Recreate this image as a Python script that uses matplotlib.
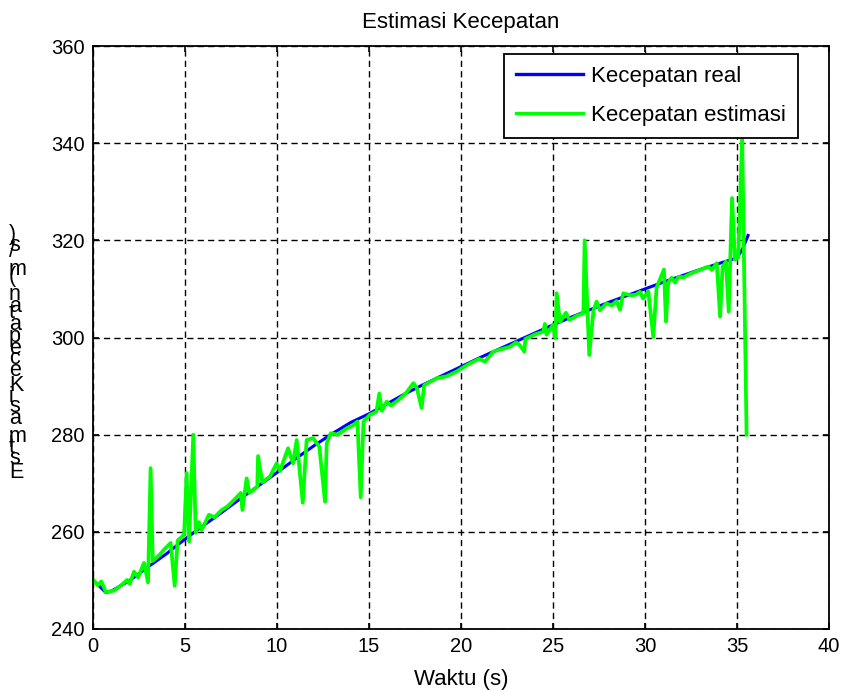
"""
Estimasi kecepatan: kecepatan real vs kecepatan hasil estimasi.
"""

import matplotlib

matplotlib.use("Agg")
import matplotlib.pyplot as plt
from matplotlib import font_manager
from matplotlib.font_manager import FontProperties
from matplotlib.ft2font import FT2Font

# kecepatan real (m/s)
t_real = [0, 0.3, 0.7, 1, 2, 3, 4, 5, 6, 7, 8, 9, 10, 11, 12, 13, 14, 15, 16, 17,
          18, 19, 20, 21, 22, 23, 24, 25, 26, 27, 28, 29, 30, 31, 32, 33, 34, 35,
          35.3, 35.6]
v_real = [250.0, 249.0, 247.5, 247.8, 250.0, 252.8, 255.5, 258.5, 261.3, 264.0,
          266.8, 269.5, 272.2, 275.0, 277.7, 280.2, 282.5, 284.3, 286.4, 288.5,
          290.4, 292.2, 294.0, 295.8, 297.5, 299.2, 300.9, 302.6, 304.2, 305.7,
          307.2, 308.6, 310.0, 311.4, 312.7, 314.0, 315.2, 316.4, 318.2, 321.0]

# kecepatan estimasi (m/s)
t_est = [0, 0.25, 0.45, 0.7, 1.15, 1.5, 1.86, 2.0, 2.23, 2.45, 2.77, 2.99, 3.13,
         3.25, 3.6, 3.9, 4.22, 4.44, 4.6, 4.95, 5.09, 5.22, 5.45, 5.58, 5.75, 5.9,
         6.3, 6.6, 7.0, 7.3, 7.7, 8.03, 8.12, 8.35, 8.5, 8.93, 8.97, 9.2, 9.62,
         9.98, 10.16, 10.6, 10.87, 11.07, 11.4, 11.61, 11.97, 12.3, 12.61, 12.7,
         12.92, 13.3, 13.79, 14.1, 14.37, 14.55, 14.7, 15.05, 15.4, 15.56, 15.7,
         15.96, 16.2, 16.55, 17.0, 17.41, 17.6, 17.86, 18.0, 18.68, 19.2, 19.77,
         20.1, 20.5, 21.0, 21.3, 21.76, 22.2, 22.66, 23.0, 23.2, 23.44, 23.5, 24.0,
         24.47, 24.56, 24.65, 25.0, 25.13, 25.2, 25.38, 25.7, 25.9, 26.3, 26.65,
         26.72, 26.97, 27.2, 27.37, 27.55, 27.9, 28.2, 28.45, 28.64, 28.82, 29.2,
         29.5, 29.73, 29.9, 30.18, 30.45, 30.63, 31.03, 31.14, 31.26, 31.45, 31.63,
         31.81, 32.1, 32.45, 32.99, 33.45, 33.63, 33.9, 34.08, 34.22, 34.4, 34.55,
         34.73, 34.89, 35.07, 35.28, 35.52]
v_est = [250.2, 249.0, 249.8, 247.6, 247.9, 248.9, 250.1, 249.3, 251.8, 250.6,
         253.6, 249.6, 273.1, 254.0, 255.2, 256.5, 257.7, 248.9, 258.2, 259.4,
         272.1, 258.0, 280.0, 259.8, 262.0, 260.4, 263.5, 263.0, 264.5, 265.2,
         266.7, 268.0, 264.5, 271.0, 268.0, 269.3, 275.6, 270.2, 271.4, 274.1,
         272.5, 277.2, 274.1, 278.9, 266.0, 278.9, 279.3, 277.5, 266.2, 278.2,
         280.3, 280.0, 281.3, 281.8, 282.7, 267.1, 282.7, 284.1, 284.7, 288.5,
         284.9, 286.8, 286.0, 287.0, 288.5, 290.6, 289.6, 285.5, 290.2, 291.6,
         292.0, 293.0, 293.8, 294.7, 295.6, 295.0, 297.1, 297.6, 298.1, 299.0,
         298.4, 297.1, 299.7, 300.6, 301.2, 302.8, 300.6, 302.6, 299.9, 309.1,
         303.2, 305.1, 303.6, 304.5, 305.0, 320.0, 296.4, 305.6, 307.4, 305.6,
         307.0, 306.6, 307.5, 305.7, 309.1, 308.7, 308.8, 309.4, 308.0, 309.5,
         300.1, 310.3, 314.0, 303.3, 311.3, 312.3, 311.3, 312.5, 312.4, 313.1,
         313.9, 314.6, 313.9, 315.3, 304.3, 314.6, 315.6, 305.3, 328.7, 316.0,
         316.5, 341.5, 280.0]

xticks = [0, 5, 10, 15, 20, 25, 30, 35, 40]
yticks = [240, 260, 280, 300, 320, 340, 360]
ylabel = "Estimasi Kecepatan (m/s)"

FS_TICK = 14.5
FS = 16
plt.rcParams["font.family"] = ["Liberation Sans", "DejaVu Sans"]

W, H = 847, 692
fig = plt.figure(figsize=(W / 100, H / 100), dpi=100)
ax = fig.add_axes([93 / W, 1 - 629 / H, (829 - 93) / W, (629 - 46) / H])

ax.plot(t_real, v_real, color=(0, 0, 1), lw=2.2, label="Kecepatan real")
ax.plot(t_est, v_est, color=(0, 1, 0), lw=2.7, label="Kecepatan estimasi")

ax.set_xlim(0, 40)
ax.set_ylim(240, 360)
ax.set_xticks(xticks)
ax.set_yticks(yticks)
ax.tick_params(direction="in", length=4, width=1.2, labelsize=FS_TICK,
               top=True, right=True, pad=6)
for s in ax.spines.values():
    s.set_linewidth(1.3)
ax.grid(True, color="black", linestyle=(0, (4.5, 3)), linewidth=1.0)

ax.set_title("Estimasi Kecepatan", fontsize=FS, pad=13)
ax.set_xlabel("Waktu (s)", fontsize=FS, labelpad=9)

leg = ax.legend(loc="upper right", bbox_to_anchor=((798 - 93) / (829 - 93), (629 - 54) / (629 - 46)),
                fontsize=FS, fancybox=False, framealpha=1, edgecolor="black",
                handlelength=3.0, handletextpad=0.36, labelspacing=0.78,
                borderpad=0.55, borderaxespad=0)
leg.get_frame().set_linewidth(1.3)
for line in leg.get_lines():
    line.set_linewidth(2.4)

# y label: characters stacked upright, each stepped up by its advance width
FS_Y = 15.5
font = FT2Font(font_manager.findfont(FontProperties(family="Liberation Sans")))
font.set_size(FS_Y, 100)
y_px = 478
for ch in ylabel:
    fig.text(9 / W, 1 - y_px / H, ch, fontsize=FS_Y, ha="left", va="baseline")
    glyph = font.load_char(ord(ch))
    y_px -= glyph.linearHoriAdvance / 65536

fig.savefig("out.png", dpi=100)
